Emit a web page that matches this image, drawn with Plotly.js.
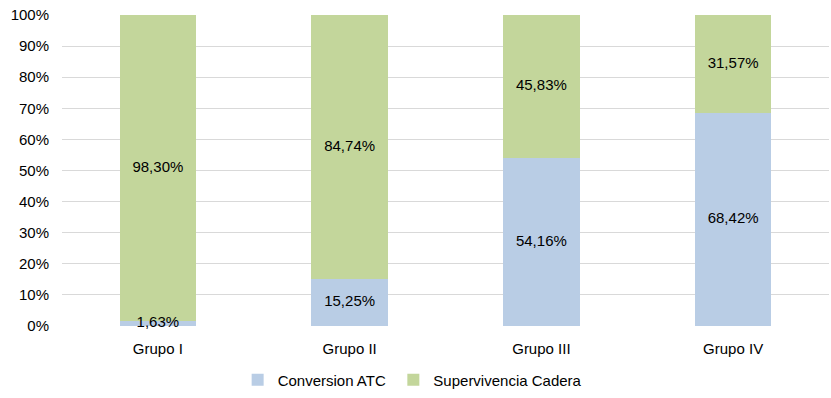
<!DOCTYPE html>
<html><head><meta charset="utf-8">
<script src="https://cdn.plot.ly/plotly-3.0.1.min.js"></script>
<style>body{margin:0;}#c{width:831px;height:398px;}</style>
</head><body><div id="c"></div>
<script>
const categories = ['Grupo I', 'Grupo II', 'Grupo III', 'Grupo IV'];
const conversionATC = [1.63, 15.25, 54.16, 68.42];
const supervivenciaCadera = [98.30, 84.74, 45.83, 31.57];
const fmt = v => v.toFixed(2).replace('.', ',') + '%';
const font = {family: '"Liberation Sans", Arial, sans-serif', size: 15, color: '#000'};
const totals = conversionATC.map((v, i) => v + supervivenciaCadera[i]);
const midBlue = conversionATC.map((v, i) => (v / 2) / totals[i] * 100);
const midGreen = conversionATC.map((v, i) => (v + supervivenciaCadera[i] / 2) / totals[i] * 100);
const traces = [
  {type: 'bar', name: 'Conversion ATC', x: categories, y: conversionATC,
   marker: {color: '#B9CDE5'}, hoverinfo: 'none', legend: 'legend'},
  {type: 'bar', name: 'Supervivencia Cadera', x: categories, y: supervivenciaCadera,
   marker: {color: '#C3D69B'}, hoverinfo: 'none', legend: 'legend2'},
  {type: 'scatter', mode: 'text', x: categories, y: midBlue, text: conversionATC.map(fmt),
   textfont: font, showlegend: false, cliponaxis: false, hoverinfo: 'none'},
  {type: 'scatter', mode: 'text', x: categories, y: midGreen, text: supervivenciaCadera.map(fmt),
   textfont: font, showlegend: false, cliponaxis: false, hoverinfo: 'none'}
];
const legBase = {orientation: 'h', xanchor: 'left', yref: 'container', y: 0.045,
                 yanchor: 'middle', font: font, itemwidth: 30, bgcolor: 'rgba(0,0,0,0)'};
const layout = {
  width: 831, height: 398, barmode: 'stack', barnorm: 'percent', bargap: 0.6,
  margin: {l: 62, r: 2, t: 15, b: 72, autoexpand: false},
  paper_bgcolor: '#fff', plot_bgcolor: '#fff',
  font: font,
  xaxis: {tickfont: font, showgrid: false, zeroline: false, showline: false, ticks: '',
          ticklabelstandoff: 12, automargin: false},
  yaxis: {range: [0, 100], dtick: 10, ticksuffix: '%', tickfont: font, automargin: false,
          ticklabelstandoff: 12,
          gridcolor: '#D9D9D9', gridwidth: 1, zeroline: false, showline: false, ticks: ''},
  legend: Object.assign({}, legBase, {x: 0.229}),
  legend2: Object.assign({}, legBase, {x: 0.432}),
  showlegend: true
};
Plotly.newPlot('c', traces, layout, {displayModeBar: false, staticPlot: true});
</script></body></html>
